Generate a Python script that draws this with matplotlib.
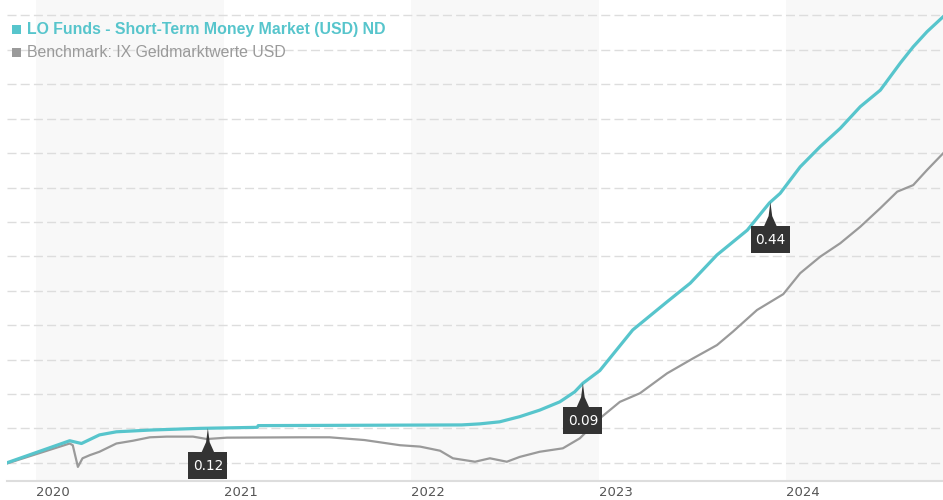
"""Fund vs benchmark cumulative performance chart (money market, USD)."""

import numpy as np
import pandas as pd
import matplotlib
matplotlib.use("Agg")
import matplotlib.pyplot as plt
import matplotlib.dates as mdates
import matplotlib.transforms as mtransforms
from matplotlib.patches import Polygon, Rectangle

FUND_NAME = "LO Funds - Short-Term Money Market (USD) ND"
BENCH_NAME = "Benchmark: IX Geldmarktwerte USD"

fund_dates = [
    "2019-11-06", "2020-03-07", "2020-03-30", "2020-05-04", "2020-06-06",
    "2020-08-10", "2020-11-15", "2021-03-07", "2021-03-09", "2022-04-09",
    "2022-05-14", "2022-06-22", "2022-07-31", "2022-09-08", "2022-10-17",
    "2022-11-15", "2022-12-01", "2023-01-03", "2023-03-08", "2023-05-14",
    "2023-06-28", "2023-08-19", "2023-10-17", "2023-11-29", "2023-12-20",
    "2024-01-28", "2024-03-07", "2024-04-15", "2024-05-24", "2024-07-02",
    "2024-08-10", "2024-09-04", "2024-10-01", "2024-11-01",
]
fund_values = [
    0.00, 0.64, 0.56, 0.81, 0.90,
    0.95, 1.00, 1.03, 1.08, 1.10,
    1.13, 1.19, 1.34, 1.53, 1.77,
    2.06, 2.31, 2.68, 3.86, 4.68,
    5.22, 6.04, 6.76, 7.55, 7.83,
    8.60, 9.19, 9.72, 10.35, 10.83,
    11.62, 12.09, 12.53, 12.96,
]

bench_dates = [
    "2019-11-06", "2020-03-07", "2020-03-13", "2020-03-23", "2020-04-01",
    "2020-04-15", "2020-05-04", "2020-06-06", "2020-07-08", "2020-08-10",
    "2020-09-12", "2020-11-02", "2020-11-29", "2021-01-07", "2021-05-29",
    "2021-07-26", "2021-10-02", "2021-12-10", "2022-01-18", "2022-02-26",
    "2022-03-23", "2022-05-05", "2022-06-03", "2022-07-06", "2022-07-31",
    "2022-09-08", "2022-10-23", "2022-11-25", "2023-01-03", "2023-02-11",
    "2023-03-22", "2023-05-14", "2023-07-03", "2023-08-19", "2023-09-19",
    "2023-11-05", "2023-12-26", "2024-01-28", "2024-03-07", "2024-04-15",
    "2024-05-24", "2024-07-02", "2024-08-04", "2024-09-04", "2024-10-01",
    "2024-11-01",
]
bench_values = [
    -0.02, 0.56, 0.51, -0.12, 0.13,
    0.22, 0.32, 0.56, 0.64, 0.74,
    0.76, 0.76, 0.69, 0.73, 0.74,
    0.74, 0.66, 0.51, 0.47, 0.35,
    0.13, 0.03, 0.13, 0.03, 0.17,
    0.32, 0.42, 0.71, 1.29, 1.77,
    2.02, 2.60, 3.03, 3.42, 3.81,
    4.44, 4.90, 5.51, 5.99, 6.38,
    6.86, 7.40, 7.88, 8.07, 8.51,
    8.99,
]

flag_dates = ["2020-12-01", "2022-12-01", "2023-12-01"]
flag_labels = ["0.12", "0.09", "0.44"]

years = [2020, 2021, 2022, 2023, 2024]
shaded_years = [2020, 2022, 2024]

FUND_COLOR = "#57c5cc"
BENCH_COLOR = "#9a9a9a"


def main():
    fd = pd.to_datetime(fund_dates)
    bd = pd.to_datetime(bench_dates)

    fig = plt.figure(figsize=(9.43, 5.0), dpi=100)
    fig.patch.set_facecolor("white")
    ax = fig.add_axes([7 / 943, 19 / 500, 936 / 943, 481 / 500])

    for y in shaded_years:
        ax.axvspan(pd.Timestamp(f"{y}-01-01"), pd.Timestamp(f"{y + 1}-01-01"),
                   color="#f8f8f8", zorder=0, lw=0)

    ax.plot(bd, bench_values, color=BENCH_COLOR, lw=1.6, zorder=3)
    ax.plot(fd, fund_values, color=FUND_COLOR, lw=2.3, zorder=4)

    ax.set_xlim(fd[0], fd[-1])
    ax.set_ylim(-0.53, 13.45)
    ax.set_yticks(np.arange(0, 14))
    ax.set_yticklabels([])
    ax.yaxis.grid(True, color="#dddddd", lw=1.0, linestyle=(0, (6.5, 3)))
    ax.set_axisbelow(True)
    ax.tick_params(axis="both", length=0)

    ax.set_xticks([pd.Timestamp(f"{y}-01-01") for y in years])
    ax.set_xticklabels([str(y) for y in years], fontsize=9.5, color="#555555",
                       family="DejaVu Sans")
    for lbl in ax.get_xticklabels():
        lbl.set_ha("left")
    ax.tick_params(axis="x", pad=3.5)

    for side in ("top", "left", "right"):
        ax.spines[side].set_visible(False)
    ax.spines["bottom"].set_color("#dddddd")
    ax.spines["bottom"].set_linewidth(1.5)

    # flags on the fund line
    fx = mdates.date2num(fd)
    for d, lab in zip(flag_dates, flag_labels):
        x = mdates.date2num(pd.Timestamp(d))
        v = np.interp(x, fx, fund_values)
        tr = fig.dpi_scale_trans + mtransforms.ScaledTranslation(x, v, ax.transData)
        spike = Polygon([(0, 0), (0.018, -0.14), (0.065, -0.245),
                         (-0.065, -0.245), (-0.018, -0.14)],
                        closed=True, fc="#333333", ec="none", transform=tr, zorder=6)
        box = Rectangle((-0.195, -0.51), 0.39, 0.27, fc="#333333", ec="none",
                        transform=tr, zorder=6)
        ax.add_patch(spike)
        ax.add_patch(box)
        ax.text(0, -0.375, lab, transform=tr, ha="center", va="center",
                color="white", fontsize=9.8, family="DejaVu Sans", zorder=7)

    # legend at top left
    fig.patches.append(Rectangle((11.5 / 943, 1 - 34 / 500), 9 / 943, 9 / 500,
                                 transform=fig.transFigure, fc=FUND_COLOR, ec="none"))
    fig.patches.append(Rectangle((11.5 / 943, 1 - 57 / 500), 9 / 943, 9 / 500,
                                 transform=fig.transFigure, fc=BENCH_COLOR, ec="none"))
    fig.text(27 / 943, 1 - 29.5 / 500, FUND_NAME, color=FUND_COLOR, fontsize=11.4,
             fontweight="bold", family="Liberation Sans", va="center")
    fig.text(27 / 943, 1 - 52.5 / 500, BENCH_NAME, color=BENCH_COLOR, fontsize=11.4,
             family="Liberation Sans", va="center")

    fig.savefig("out.png", dpi=100)


if __name__ == "__main__":
    main()
